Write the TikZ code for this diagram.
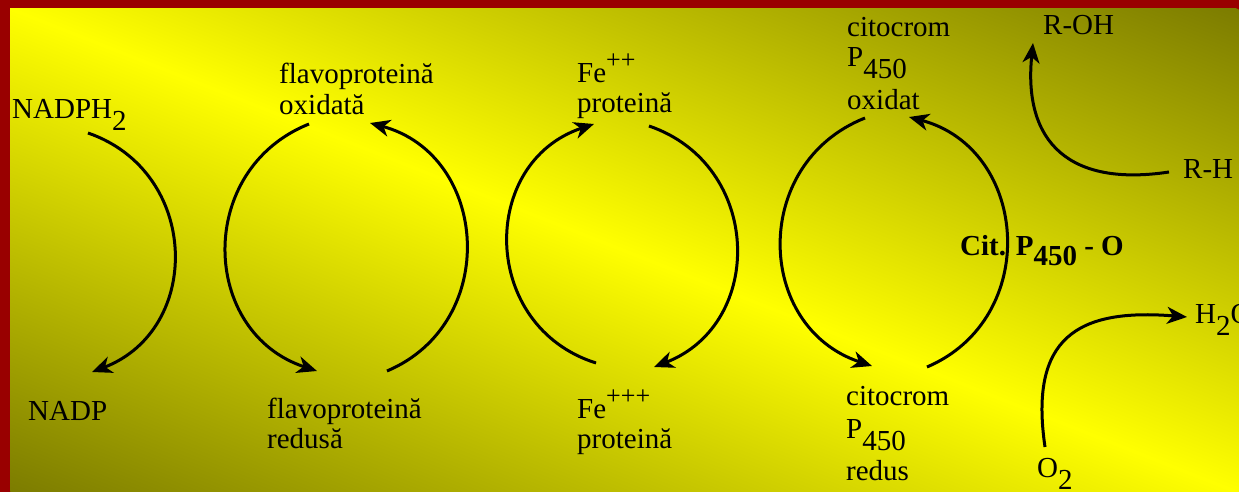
\documentclass[tikz,border=0pt]{standalone}
\usepackage{fontspec}
\setmainfont{Liberation Serif}
\usetikzlibrary{arrows.meta}
\definecolor{bordo}{RGB}{153,0,0}
\definecolor{masl}{RGB}{124,124,0}
\definecolor{galb}{RGB}{255,255,0}
\newcommand\jos[1]{\raisebox{-12pt}{#1}}
\newcommand\sus[1]{\raisebox{14pt}{\fontsize{26}{26}\selectfont #1}}
\begin{document}
\begin{tikzpicture}[x=1pt,y=-1pt, lbl/.style={anchor=base west,inner sep=0pt,align=left,font=\fontsize{29}{30}\selectfont}, cyc/.style={-{Stealth[length=20pt,width=17pt,inset=6pt]},line width=3pt}]
\useasboundingbox (0,0) rectangle (1239,492);
\fill[bordo] (0,0) rectangle (1239,492);
\begin{scope}
\clip (10,9) rectangle (1239,492);
\shade[top color=masl,bottom color=masl,middle color=galb,transform canvas={rotate around={-21.5:(624.5,250.5)}}] (-125.5,-199) rectangle (1374.5,700);
\end{scope}
\node[lbl] (nadph) at (12,119) {NADPH\jos{2}};
\node[lbl] (nadp) at (28,420) {NADP};
\node[lbl] (flox) at (279,114) {flavoproteină\\oxidată};
\node[lbl] (flred) at (267,448) {flavoproteină\\redusă};
\node[lbl] (fedoi) at (577,113) {Fe\sus{++}\\proteină};
\node[lbl] (fetrei) at (577,448) {Fe\sus{+++}\\proteină};
\node[lbl] (cpox) at (847,110) {citocrom\\P\jos{450}\\[10pt]oxidat};
\node[lbl] (cpred) at (846,480) {citocrom\\[3pt]P\jos{450}\\[8pt]redus};
\node[lbl] (roh) at (1043,35) {R-OH};
\node[lbl] (rh) at (1183,178) {R-H};
\node[lbl,font=\fontsize{29}{30}\selectfont\bfseries] (cpo) at (960,255) {Cit. P\raisebox{-10pt}{450} - O};
\node[lbl] (o2) at (1037,477) {O\jos{2}};
\node[lbl] (h2o) at (1195,323) {H\jos{2}O};
\draw[cyc] ([shift={(76,14)}]nadph.base west) to[bend left=70,looseness=1.27] ([shift={(64,-48)}]nadp.base west);
\draw[cyc] ([shift={(30,10)}]flox.base west) to[bend right=70,looseness=1.27] ([shift={(50,-77)}]flred.base west);
\draw[cyc] ([shift={(120,-77)}]flred.base west) to[bend right=71,looseness=1.27] ([shift={(91,9)}]flox.base west);
\draw[cyc] ([shift={(19,-85)}]fetrei.base west) to[bend left=72,looseness=1.3] ([shift={(17,11)}]fedoi.base west);
\draw[cyc] ([shift={(72,13)}]fedoi.base west) to[bend left=70,looseness=1.27] ([shift={(77,-81)}]fetrei.base west);
\draw[cyc] ([shift={(18,8)}]cpox.base west) to[bend right=70,looseness=1.27] ([shift={(26,-114)}]cpred.base west);
\draw[cyc] ([shift={(81,-113)}]cpred.base west) to[bend right=71,looseness=1.27] ([shift={(62,7)}]cpox.base west);
\draw[cyc] ([shift={(-14,-6)}]rh.base west) .. controls +(-99,15) and +(-10,100) .. ([shift={(-10,8)}]roh.base west);
\draw[cyc] ([shift={(8,-30)}]o2.base west) .. controls +(-16,-109) and +(-110,-9) .. ([shift={(-8,-6)}]h2o.base west);
\end{tikzpicture}
\end{document}
